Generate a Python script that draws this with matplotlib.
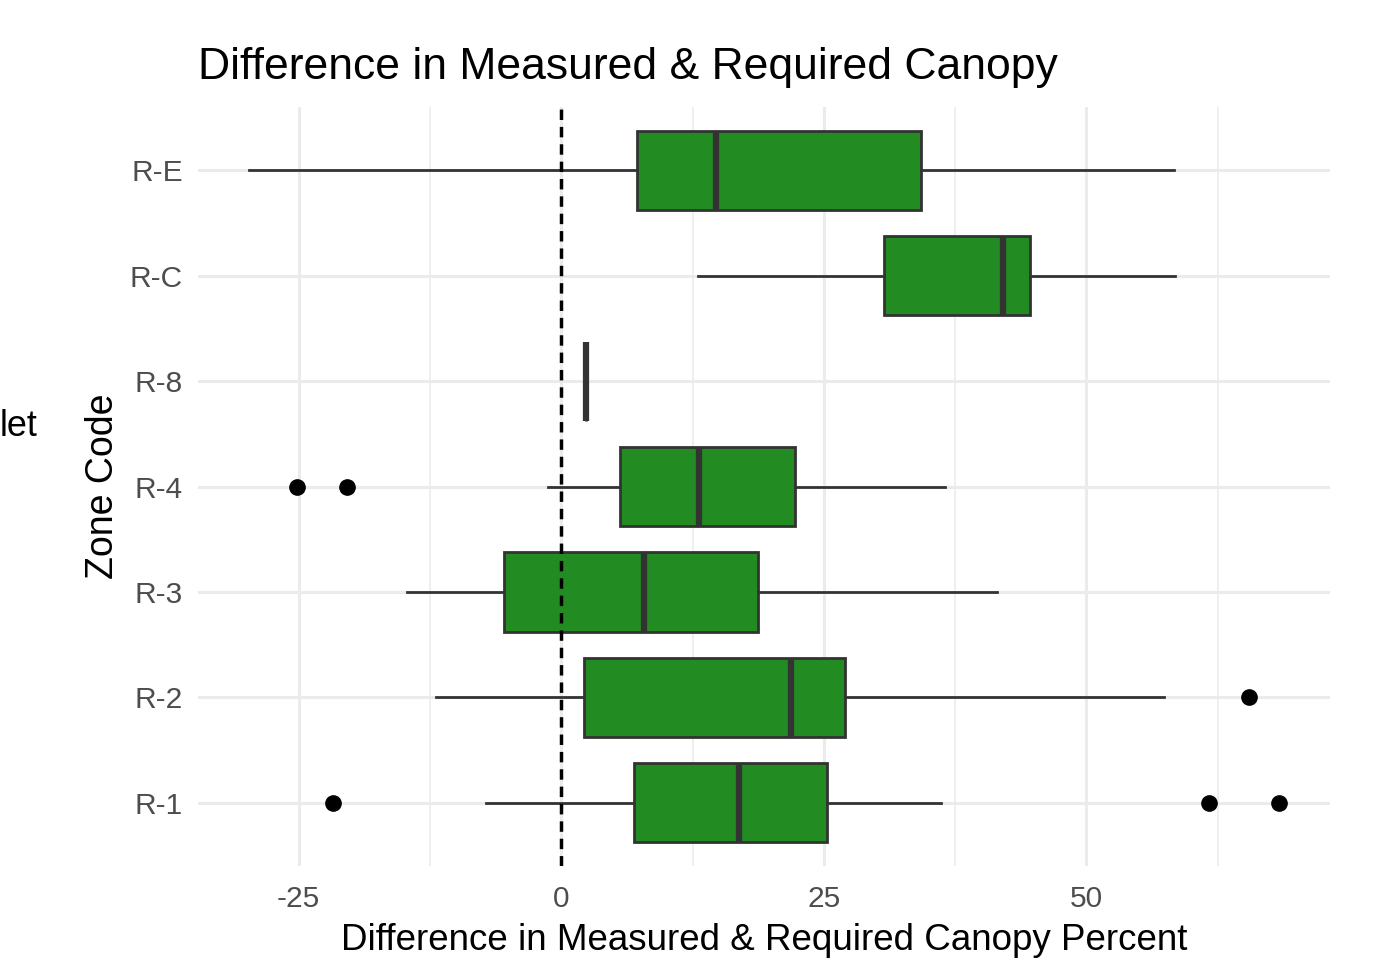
import matplotlib
matplotlib.use("Agg")
import matplotlib.pyplot as plt

zones = ["R-1", "R-2", "R-3", "R-4", "R-8", "R-C", "R-E"]
whisker_low = [-7.2, -11.9, -14.7, -1.3, 2.4, 13.0, -29.7]
q1 = [6.9, 2.2, -5.5, 5.6, 2.4, 30.7, 7.25]
median = [16.9, 21.9, 7.9, 13.1, 2.4, 42.1, 14.7]
q3 = [25.3, 27.0, 18.7, 22.3, 2.4, 44.6, 34.3]
whisker_high = [36.2, 57.4, 41.5, 36.5, 2.4, 58.4, 58.3]
outliers = [[-21.7, 61.7, 68.3], [65.5], [], [-25.2, -20.4], [], [], []]

x_ticks = [-25, 0, 25, 50]
x_minor = [-12.5, 12.5, 37.5, 62.5]

plt.rcParams["font.family"] = ["Liberation Sans", "DejaVu Sans"]

fig = plt.figure(figsize=(13.84, 9.63), dpi=100)
ax = fig.add_axes([0.143, 0.1007, 0.818, 0.788])

stats = []
for i, z in enumerate(zones):
    stats.append(dict(label=z, whislo=whisker_low[i], q1=q1[i], med=median[i],
                      q3=q3[i], whishi=whisker_high[i], fliers=outliers[i]))

edge = "#333333"
ax.bxp(stats, positions=range(1, len(zones) + 1), vert=False, widths=0.75,
       patch_artist=True, showcaps=False,
       boxprops=dict(facecolor="#228B22", edgecolor=edge, linewidth=2),
       medianprops=dict(color=edge, linewidth=4.5, solid_capstyle="butt"),
       whiskerprops=dict(color=edge, linewidth=2),
       flierprops=dict(marker="o", markerfacecolor="black", markeredgecolor="black",
                       markersize=11), zorder=3)

# reference line at zero difference
ax.axvline(0, color="black", linestyle=(0, (3, 2)), linewidth=2.5, zorder=4)

ax.set_xlim(-34.6, 73.2)
ax.set_ylim(0.4, 7.6)
ax.set_xticks(x_ticks)
ax.set_xticklabels([str(t) for t in x_ticks])
ax.set_xticks(x_minor, minor=True)
ax.set_yticks(range(1, len(zones) + 1))
ax.set_yticklabels(zones)

ax.grid(which="major", color="#EBEBEB", linewidth=2.2, zorder=0)
ax.grid(which="minor", axis="x", color="#EBEBEB", linewidth=1.1, zorder=0)
ax.set_axisbelow(True)
for s in ax.spines.values():
    s.set_visible(False)
ax.tick_params(which="both", length=0, labelsize=21.5, labelcolor="#4D4D4D")
ax.tick_params(axis="x", pad=14)
ax.tick_params(axis="y", pad=11)

ax.set_xlabel("Difference in Measured & Required Canopy Percent", fontsize=26.5, labelpad=7)
ax.set_ylabel("Zone Code", fontsize=27, labelpad=6)
ax.set_title("Difference in Measured & Required Canopy", fontsize=32, loc="left", pad=20)

fig.text(0.0, 0.557, "let", fontsize=26, ha="left", va="center")

fig.savefig("out.png", dpi=100, facecolor="white")
